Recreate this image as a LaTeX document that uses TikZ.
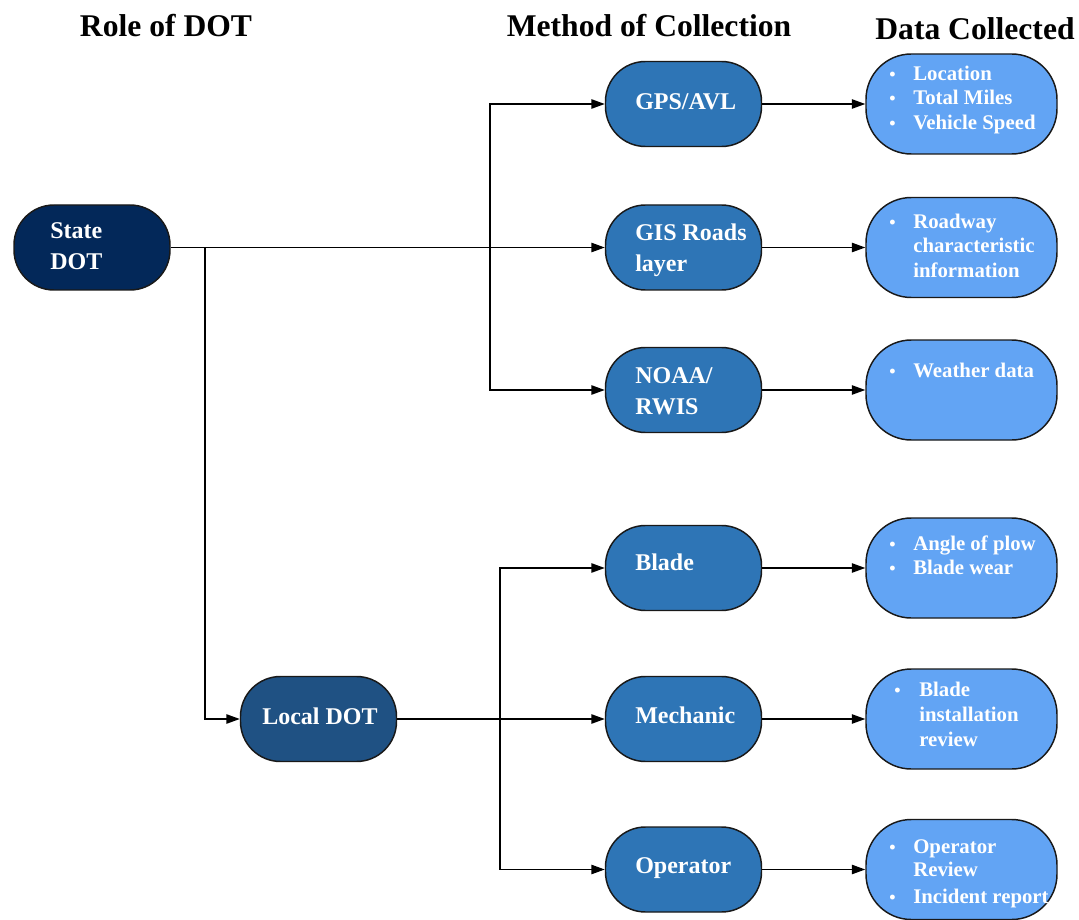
\documentclass[tikz,border=0pt]{standalone}
\usepackage{fontspec}
\setmainfont{Liberation Serif}
\usetikzlibrary{arrows.meta}
\definecolor{navy}{RGB}{3,40,89}
\definecolor{localblue}{RGB}{31,81,131}
\definecolor{methblue}{RGB}{46,117,182}
\definecolor{datablue}{RGB}{98,164,244}
\definecolor{edge}{RGB}{25,25,25}
\tikzset{
  pill/.style={draw=edge, line width=1.1pt, rounded corners=30pt, minimum width=117pt, minimum height=63.75pt, inner sep=0pt},
  rolebox/.style={pill, fill=navy},
  localbox/.style={pill, fill=localblue},
  methbox/.style={pill, fill=methblue},
  databox/.style={pill, fill=datablue, minimum width=143.25pt, minimum height=75pt, rounded corners=34pt},
  ntext/.style={text=white, font=\fontsize{18}{23}\selectfont\bfseries, inner sep=0pt, align=left},
  dtext/.style={text=white, font=\fontsize{15.6}{18.75}\selectfont\bfseries, inner sep=0pt, anchor=base west},
  bul/.style={text=white, font=\fontsize{13.5}{14}\selectfont\bfseries, inner sep=0pt, anchor=base west},
  title/.style={font=\fontsize{23.7}{28}\selectfont\bfseries, inner sep=0pt},
  conn/.style={draw=black, line width=1pt, -{Triangle[length=10pt,width=7pt]}},
  plain/.style={draw=black, line width=1pt}
}
\begin{document}
\begin{tikzpicture}[x=0.75pt,y=-0.75pt]
\path[use as bounding box] (0,0) rectangle (1079,920);
% titles
\node[title] (t1) at (166,26) {Role of DOT};
\node[title] (t2) at (649,26) {Method of Collection};
\node[title] (t3) at (975,29) {Data Collected};
% role nodes
\node[rolebox] (state) at (92,247.5) {};
\node[ntext, anchor=west] (statet) at (50,246) {State\\DOT};
\node[localbox] (local) at (318.5,719) {};
\node[ntext] (localt) at (320,716) {Local DOT};
% method nodes
\node[methbox] (gps) at (683.5,104) {};
\node[ntext, anchor=west] (gpst) at (635,102) {GPS/AVL};
\node[methbox] (gis) at (683.5,247.5) {};
\node[ntext, anchor=west] (gist) at (635,250) {GIS Roads\\layer};
\node[methbox] (noaa) at (683.5,390) {};
\node[ntext, anchor=west] (noaat) at (635,391) {NOAA/\\RWIS};
\node[methbox] (blade) at (683.5,568) {};
\node[ntext, anchor=west] (bladet) at (635,562) {Blade};
\node[methbox] (mech) at (683.5,719) {};
\node[ntext, anchor=west] (mecht) at (635,715) {Mechanic};
\node[methbox] (oper) at (683.5,869.5) {};
\node[ntext, anchor=west] (opert) at (635,868) {Operator};
% data nodes
\node[databox] (d1) at (961.5,104) {};
\node[databox] (d2) at (961.5,247.5) {};
\node[databox] (d3) at (961.5,390) {};
\node[databox] (d4) at (961.5,568) {};
\node[databox] (d5) at (961.5,719) {};
\node[databox] (d6) at (961.5,869.5) {};
% data texts
\node[bul] (b11) at (889,80.5) {•};
\node[dtext] (l11) at (913,80.5) {Location};
\node[bul] (b12) at (889,104.5) {•};
\node[dtext] (l12) at (913,104.5) {Total Miles};
\node[bul] (b13) at (889,129.5) {•};
\node[dtext] (l13) at (913,129.5) {Vehicle Speed};
\node[bul] (b21) at (889,228.5) {•};
\node[dtext] (l21) at (913,228.5) {Roadway};
\node[dtext] (l22) at (913,252.5) {characteristic};
\node[dtext] (l23) at (913,277.5) {information};
\node[bul] (b31) at (889,377.5) {•};
\node[dtext] (l31) at (913,377.5) {Weather data};
\node[bul] (b41) at (889,550.5) {•};
\node[dtext] (l41) at (913,550.5) {Angle of plow};
\node[bul] (b42) at (889,574.5) {•};
\node[dtext] (l42) at (913,574.5) {Blade wear};
\node[bul] (b51) at (894,696.5) {•};
\node[dtext] (l51) at (919,696.5) {Blade};
\node[dtext] (l52) at (919,721.5) {installation};
\node[dtext] (l53) at (919,746.5) {review};
\node[bul] (b61) at (889,853.5) {•};
\node[dtext] (l61) at (913,853.5) {Operator};
\node[dtext] (l62) at (913,876.5) {Review};
\node[bul] (b63) at (889,903.5) {•};
\node[dtext] (l63) at (913,903.5) {Incident report};
% connectors
\coordinate (s1) at (490,247.5);
\coordinate (s0) at (205,247.5);
\coordinate (s2) at (500,719);
\draw[conn] (state.east) -- (gis.west);
\draw[conn] (s1) |- (gps.west);
\draw[conn] (s1) |- (noaa.west);
\draw[conn] (s0) |- (local.west);
\draw[conn] (local.east) -- (mech.west);
\draw[conn] (s2) |- (blade.west);
\draw[conn] (s2) |- (oper.west);
\draw[conn] (gps.east) -- (d1.west);
\draw[conn] (gis.east) -- (d2.west);
\draw[conn] (noaa.east) -- (d3.west);
\draw[conn] (blade.east) -- (d4.west);
\draw[conn] (mech.east) -- (d5.west);
\draw[conn] (oper.east) -- (d6.west);
\end{tikzpicture}
\end{document}
